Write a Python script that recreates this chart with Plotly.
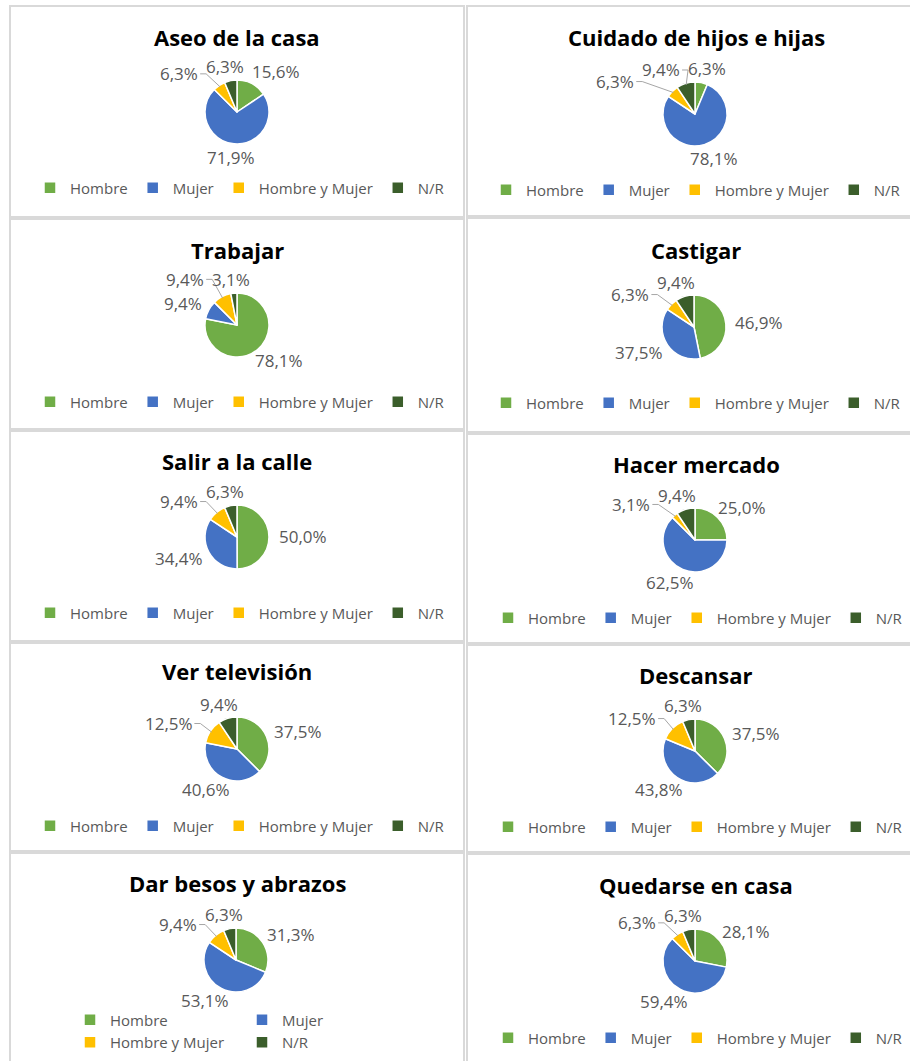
import math
import plotly.graph_objects as go

# ---------------- data ----------------
categories = ["Hombre", "Mujer", "Hombre y Mujer", "N/R"]
titles = [
    "Aseo de la casa", "Cuidado de hijos e hijas",
    "Trabajar", "Castigar",
    "Salir a la calle", "Hacer mercado",
    "Ver televisión", "Descansar",
    "Dar besos y abrazos", "Quedarse en casa",
]
aseo = [15.6, 71.9, 6.3, 6.3]
cuidado = [6.3, 78.1, 6.3, 9.4]
trabajar = [78.1, 9.4, 9.4, 3.1]
castigar = [46.9, 37.5, 6.3, 9.4]
salir = [50.0, 34.4, 9.4, 6.3]
mercado = [25.0, 62.5, 3.1, 9.4]
television = [37.5, 40.6, 12.5, 9.4]
descansar = [37.5, 43.8, 12.5, 6.3]
besos = [31.3, 53.1, 9.4, 6.3]
quedarse = [28.1, 59.4, 6.3, 6.3]
series = [aseo, cuidado, trabajar, castigar, salir, mercado,
          television, descansar, besos, quedarse]
colors = ["#70AD47", "#4472C4", "#FFC000", "#3B5E2B"]

# ---------------- layout geometry (pixels) ----------------
W, H = 910, 1061
L, R = 80, 0
PW = W - L - R
FONT = "Open Sans"
LBL_SIZE = 17


def px(x):
    return (x - L) / PW


def py(y):
    return 1 - y / H


# panel boxes: x0, y0, x1, y1
panels = [
    (10, 6, 464, 217), (467, 6, 925, 216),
    (10, 219, 464, 429), (467, 218, 925, 432),
    (10, 431, 464, 641), (467, 434, 925, 643),
    (10, 643, 464, 851), (467, 645, 925, 852),
    (10, 853, 464, 1075), (467, 854, 925, 1075),
]
# title centre, pie centre, legend centre
title_pos = [(237, 37), (696, 37), (237, 250), (696, 250), (237, 461),
             (696, 464), (237, 671), (696, 675), (237, 883), (696, 885)]
pie_pos = [(237, 112), (695, 114), (237, 325), (694, 327), (237, 537),
           (695, 540), (237, 749), (695, 751), (236, 960), (695, 961)]
legend_pos = [(240, 188), (696, 190), (240, 402), (696, 403), (240, 613),
              (698, 618), (240, 826), (698, 827), (70, 1031), (698, 1038)]
RAD = 32
GAP_X, GAP_Y = 10, 6

CHAR_W = {",": 0.26, "%": 0.82}


def text_w(s):
    return sum(CHAR_W.get(c, 0.572) for c in s) * LBL_SIZE


def fmt(v):
    return f"{v:.1f}".replace(".", ",") + "%"


def place_labels(vals, cx, cy):
    """Outside-end label boxes from slice mid angles, with simple collision push."""
    total = sum(vals)
    labs = []
    cum = 0.0
    for v in vals:
        mid = (cum + v / 2) / total * 2 * math.pi
        cum += v
        dx, dy = math.sin(mid), -math.cos(mid)
        txt = fmt(v)
        w, h = text_w(txt), 22
        ax, ay = cx + (RAD + GAP_X) * dx, cy + (RAD + GAP_Y) * dy
        bx, by = ax + dx * w / 2, ay + dy * 8
        labs.append(dict(txt=txt, v=v, dx=dx, dy=dy, w=w, h=h,
                         x=bx, y=by, x0=bx, y0=by,
                         ex=cx + RAD * 0.95 * dx, ey=cy + RAD * 0.95 * dy))
    pad_x, pad_y = 8, 2
    for _ in range(40):
        moved = False
        for a in range(len(labs)):
            for b in range(a + 1, len(labs)):
                A, B = labs[a], labs[b]
                ox = (A["w"] + B["w"]) / 2 + pad_x - abs(A["x"] - B["x"])
                oy = (A["h"] + B["h"]) / 2 + pad_y - abs(A["y"] - B["y"])
                if ox > 0 and oy > 0:
                    if oy < 5.3:
                        if abs(A["dy"]) != abs(B["dy"]):
                            mv = A if abs(A["dy"]) > abs(B["dy"]) else B
                        else:
                            mv = A if A["v"] <= B["v"] else B
                        other = B if mv is A else A
                        sgn = -1 if mv["y"] < other["y"] else 1
                        mv["y"] += sgn * oy
                    else:
                        if abs(A["dx"]) != abs(B["dx"]):
                            mv = A if abs(A["dx"]) > abs(B["dx"]) else B
                        else:
                            mv = A if A["v"] <= B["v"] else B
                        other = B if mv is A else A
                        sgn = -1 if mv["x"] < other["x"] else 1
                        mv["x"] += sgn * ox
                    moved = True
        if not moved:
            break
    return labs


fig = go.Figure()
shapes = []
annotations = []
for i, vals in enumerate(series):
    cx, cy = pie_pos[i]
    lname = "legend" if i == 0 else f"legend{i+1}"
    fig.add_trace(go.Pie(
        labels=categories, values=vals, sort=False, direction="clockwise",
        rotation=0,
        marker=dict(colors=colors, line=dict(color="white", width=1.5)),
        textinfo="none",
        domain=dict(x=[px(cx - RAD), px(cx + RAD)], y=[py(cy + RAD), py(cy - RAD)]),
        legend=lname, legendgroup=f"g{i}", hoverinfo="label+percent",
    ))
    x0, y0, x1, y1 = panels[i]
    shapes.append(dict(type="rect", xref="paper", yref="paper",
                       x0=px(x0), x1=px(x1), y0=py(y1), y1=py(y0),
                       line=dict(color="#D9D9D9", width=2), layer="below"))
    tx, ty = title_pos[i]
    annotations.append(dict(text="<b>" + titles[i] + "</b>", xref="paper", yref="paper",
                            x=px(tx), y=py(ty), xanchor="center", yanchor="middle",
                            showarrow=False,
                            font=dict(family=FONT, size=22, color="#000000")))
    for lab in place_labels(vals, cx, cy):
        annotations.append(dict(text=lab["txt"], xref="paper", yref="paper",
                                x=px(lab["x"]), y=py(lab["y"]),
                                xanchor="center", yanchor="middle", showarrow=False,
                                font=dict(family=FONT, size=LBL_SIZE, color="#595959")))
        shift = math.hypot(lab["x"] - lab["x0"], lab["y"] - lab["y0"])
        if shift > 10:
            side = 1 if lab["x"] < lab["ex"] else -1
            sx = lab["x"] + side * (lab["w"] / 2 + 2)
            mx = sx + side * 6
            path = (f"M {px(sx)},{py(lab['y'])} L {px(mx)},{py(lab['y'])} "
                    f"L {px(lab['ex'])},{py(lab['ey'])}")
            shapes.append(dict(type="path", xref="paper", yref="paper", path=path,
                               line=dict(color="#A6A6A6", width=1)))

legends = {}
for i in range(10):
    lx, ly = legend_pos[i]
    key = "legend" if i == 0 else f"legend{i+1}"
    d = dict(orientation="h", x=px(lx), y=py(ly),
             xanchor="center", yanchor="middle", traceorder="normal",
             bgcolor="rgba(0,0,0,0)",
             font=dict(family=FONT, size=15, color="#595959"))
    if i == 8:
        d.update(xanchor="left", entrywidth=127, entrywidthmode="pixels")
    legends[key] = d

fig.update_layout(
    width=W, height=H,
    margin=dict(l=L, r=R, t=0, b=0, autoexpand=False),
    paper_bgcolor="white", plot_bgcolor="white",
    shapes=shapes, annotations=annotations,
    font=dict(family=FONT),
    **legends,
)

fig.write_html("out.html", config={"displayModeBar": False},
               post_script="document.body.style.margin='0';")
